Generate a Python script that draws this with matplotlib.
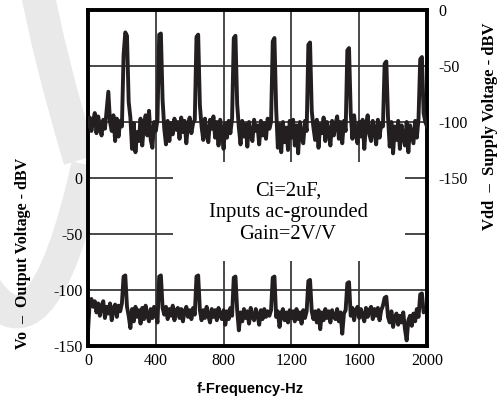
import numpy as np
import matplotlib
matplotlib.use("Agg")
import matplotlib.pyplot as plt
from matplotlib.patches import Rectangle, PathPatch
from matplotlib.path import Path

# spectrum sampled every 10 Hz, 0..2000 Hz
FREQ_STEP = 10

# Vdd - supply voltage (dBV), right axis
vdd_db = [
    -104, -96, -108, -99, -92, -110, -95, -103, -112, -98,
    -106, -90, -73, -100, -108, -94, -117, -97, -113, -99,
    -104, -40, -20, -23, -82, -96, -124, -101, -127, -109,
    -117, -97, -121, -103, -94, -112, -90, -116, -123, -100,
    -108, -98, -22, -21, -80, -106, -120, -99, -117, -101,
    -111, -97, -107, -100, -115, -96, -109, -99, -119, -102,
    -96, -110, -101, -98, -24, -22, -85, -104, -116, -97,
    -111, -118, -98, -106, -95, -114, -100, -121, -98, -109,
    -124, -101, -114, -99, -110, -97, -25, -23, -84, -105,
    -120, -99, -113, -102, -122, -100, -111, -117, -98, -108,
    -103, -120, -99, -112, -101, -115, -97, -106, -100, -28,
    -25, -88, -123, -102, -127, -100, -118, -105, -125, -99,
    -114, -98, -121, -103, -128, -100, -113, -119, -99, -108,
    -31, -29, -90, -105, -116, -98, -123, -102, -110, -96,
    -117, -100, -108, -121, -99, -112, -102, -95, -115, -100,
    -119, -99, -108, -36, -34, -92, -115, -94, -110, -119,
    -100, -113, -98, -124, -102, -94, -111, -117, -99, -107,
    -120, -98, -114, -101, -104, -48, -46, -96, -122, -100,
    -128, -104, -116, -99, -124, -103, -113, -121, -100, -127,
    -103, -111, -119, -99, -114, -97, -44, -42, -92, -100,
    -104,
]

# Vo - output voltage (dBV), left axis
vo_db = [
    -137, -111, -108, -115, -110, -120, -112, -123, -114, -110,
    -125, -115, -121, -112, -127, -116, -113, -124, -114, -119,
    -112, -88, -87, -115, -123, -134, -117, -128, -115, -124,
    -118, -130, -116, -126, -114, -123, -128, -117, -125, -115,
    -121, -129, -88, -87, -116, -122, -115, -126, -117, -123,
    -114, -127, -118, -116, -125, -117, -128, -119, -115, -124,
    -118, -126, -116, -122, -88, -87, -118, -127, -118, -125,
    -115, -123, -129, -117, -124, -118, -127, -116, -123, -126,
    -118, -131, -119, -126, -116, -123, -89, -88, -118, -136,
    -120, -128, -117, -125, -119, -130, -116, -124, -127, -117,
    -122, -131, -118, -126, -117, -124, -119, -123, -118, -89,
    -88, -124, -119, -133, -121, -117, -127, -120, -129, -118,
    -125, -119, -128, -117, -126, -120, -130, -118, -125, -119,
    -92, -91, -119, -126, -119, -129, -118, -135, -120, -127,
    -117, -125, -119, -129, -118, -124, -126, -117, -128, -120,
    -139, -121, -118, -94, -93, -123, -116, -127, -118, -115,
    -125, -117, -123, -128, -116, -124, -118, -115, -126, -117,
    -123, -116, -127, -118, -114, -107, -106, -124, -129, -119,
    -133, -124, -121, -131, -123, -129, -120, -135, -145, -127,
    -123, -132, -121, -128, -117, -124, -104, -103, -120, -118,
    -116,
]

x_ticks = [0, 400, 800, 1200, 1600, 2000]
vo_ticks = [0, -50, -100, -150]
vdd_ticks = [0, -50, -100, -150]
h_grid = [-100, -50, 0, 50, 100]
v_grid = [400, 800, 1200, 1600]

note = "Ci=2uF,\nInputs ac-grounded\nGain=2V/V"

SERIF = "Liberation Serif"
TRACE = "#231f20"
W, H = 497, 401


def fig_xy(px, py):
    return px / W, 1 - py / H


fig = plt.figure(figsize=(W / 100, H / 100), dpi=100)

# faint watermark swooshes behind everything
for pts in ([(35, -20), (50, 60), (80, 160)],
            [(88, 165), (40, 380), (-20, 280)]):
    verts = [fig_xy(*p) for p in pts]
    wm = PathPatch(Path(verts, [Path.MOVETO, Path.CURVE3, Path.CURVE3]),
                   transform=fig.transFigure, fill=False,
                   edgecolor="#e9e9e9", lw=24, capstyle="butt", zorder=0)
    fig.add_artist(wm)

l, b = fig_xy(88, 346)
r, t = fig_xy(427, 10)
ax = fig.add_axes([l, b, r - l, t - b])
ax.set_xlim(0, 2000)
ax.set_ylim(-150, 150)

ax2 = ax.twinx()
ax2.set_ylim(-300, 0)

for y in h_grid:
    ax.axhline(y, color="#3a3a3a", lw=1.3, zorder=1)
for x in v_grid:
    ax.axvline(x, color="#3a3a3a", lw=1.3, zorder=1)

ax.add_patch(Rectangle((500, -74), 1370, 88, facecolor="white",
                       edgecolor="none", zorder=2))
ax.text(1180, -31, note, ha="center", va="center", multialignment="center",
        fontsize=14.8, family=SERIF, linespacing=1.2, zorder=3)

freq = np.arange(len(vo_db)) * FREQ_STEP
ax.plot(freq, vo_db, color=TRACE, lw=2.8, zorder=4)
ax2.plot(freq, vdd_db, color=TRACE, lw=2.8, zorder=4)

ax.set_xticks(x_ticks)
ax.set_xticklabels([str(v) for v in x_ticks], family=SERIF, fontsize=11.5)
ax.set_yticks(vo_ticks)
ax.set_yticklabels([str(v) for v in vo_ticks], family=SERIF, fontsize=11.5)
ax2.set_yticks(vdd_ticks)
ax2.set_yticklabels([str(v) for v in vdd_ticks], family=SERIF, fontsize=11.5)
ax.tick_params(length=0, pad=4)
ax.tick_params(axis="x", pad=5)
ax2.tick_params(length=0, pad=8)

for a in (ax, ax2):
    for s in a.spines.values():
        s.set_linewidth(2.6)
        s.set_color("black")

fig.text(*fig_xy(250, 389), "f-Frequency-Hz", ha="center", va="center",
         family="Liberation Sans", weight="bold", fontsize=10.5)
fig.text(*fig_xy(23, 253), "Vo  \u2013  Output Voltage - dBV", rotation=90,
         ha="center", va="center", family=SERIF, weight="bold", fontsize=11.5)
fig.text(*fig_xy(490, 126), "Vdd  \u2013  Supply Voltage - dBV", rotation=90,
         ha="center", va="center", family=SERIF, weight="bold", fontsize=12)

fig.savefig("out.png", dpi=100)
plt.close(fig)
